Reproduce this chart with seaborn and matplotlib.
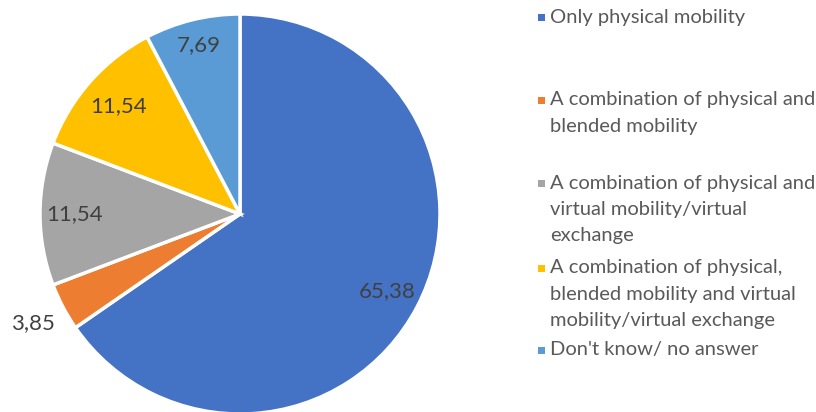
import matplotlib
matplotlib.use("Agg")
import matplotlib.pyplot as plt
import seaborn as sns
import numpy as np
from matplotlib.patches import Rectangle

categories = [
    "Only physical mobility",
    "A combination of physical and\nblended mobility",
    "A combination of physical and\nvirtual mobility/virtual\nexchange",
    "A combination of physical,\nblended mobility and virtual\nmobility/virtual exchange",
    "Don't know/ no answer",
]
values = [65.38, 3.85, 11.54, 11.54, 7.69]
colors = ["#4472C4", "#ED7D31", "#A5A5A5", "#FFC000", "#5B9BD5"]

sns.set_theme(style="white")
plt.rcParams["font.family"] = ["Lato", "DejaVu Sans"]
TXT = "#595959"

W, H = 816, 412
fig = plt.figure(figsize=(W / 100, H / 100), dpi=100)
cx, cy, r = 240, 214, 200
ax = fig.add_axes([(cx - r) / W, (H - cy - r) / H, 2 * r / W, 2 * r / H])

wedges, texts, autotexts = ax.pie(
    values, colors=colors, startangle=90, counterclock=False,
    autopct=lambda p: "", pctdistance=0.83,
    wedgeprops=dict(edgecolor="white", linewidth=2.5),
)
dists = [0.83, 1.17, 0.825, 0.81, 0.87]
for w, v, d in zip(wedges, values, dists):
    ang = np.deg2rad((w.theta1 + w.theta2) / 2)
    ax.text(d * np.cos(ang), d * np.sin(ang), f"{v:.2f}".replace(".", ","),
            ha="center", va="center", fontsize=16, color="#404040")
ax.set_xlim(-1, 1)
ax.set_ylim(-1, 1)
ax.set_aspect("equal")
ax.axis("off")

# legend
first_line_y = [17, 100, 183, 268, 350]
line_h = 26.2
for lab, col, y in zip(categories, colors, first_line_y):
    fig.add_artist(Rectangle(((538) / W, (H - y - 3.5) / H), 7 / W, 7 / H,
                             transform=fig.transFigure, color=col, lw=0))
    for i, line in enumerate(lab.split("\n")):
        fig.text(550 / W, (H - y - i * line_h) / H, line, ha="left", va="center",
                 fontsize=14.5, color=TXT)

fig.savefig("out.png", dpi=100)
